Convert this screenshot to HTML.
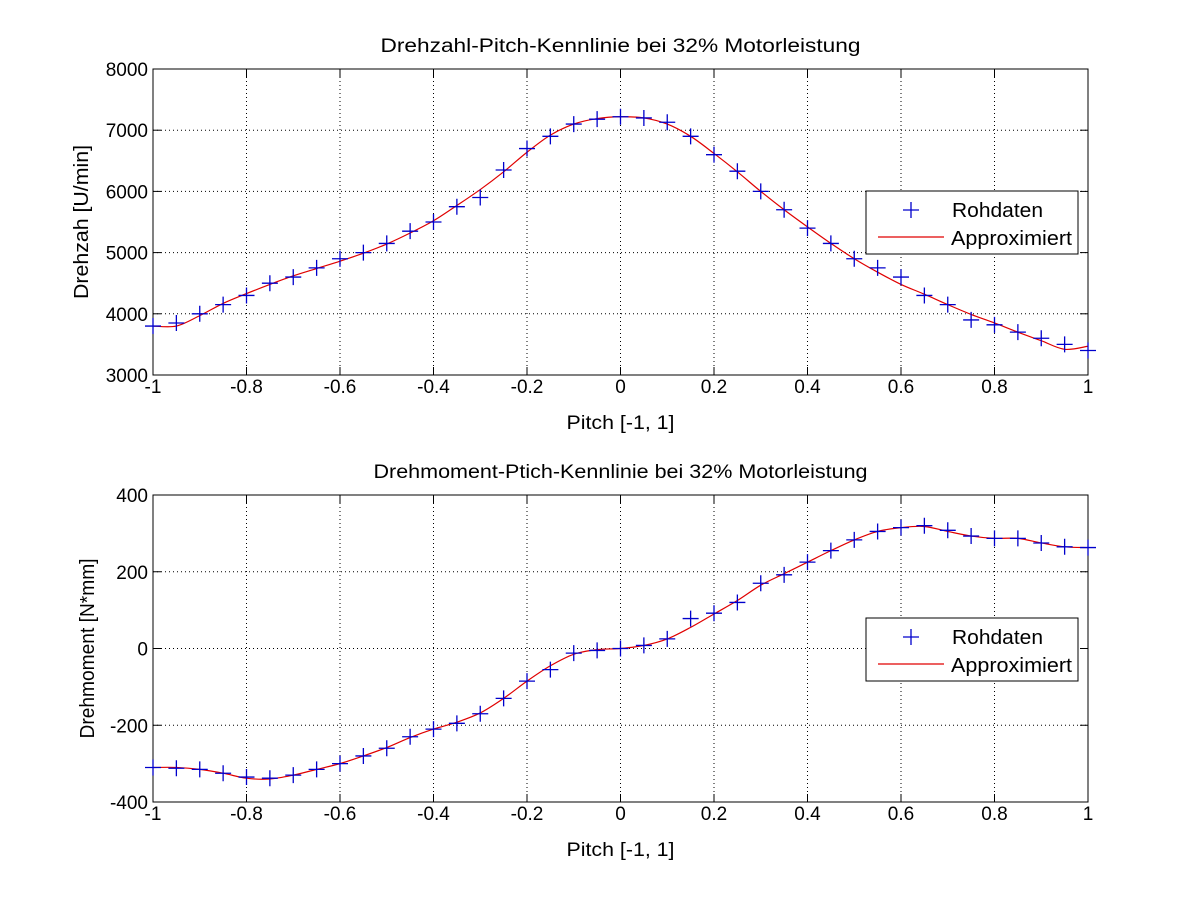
<!DOCTYPE html>
<html><head><meta charset="utf-8"><style>
body{margin:0;background:#fff}
svg{display:block;font-family:"Liberation Sans",Arial,sans-serif}
</style></head><body>
<svg id="chart" width="1201" height="901" xmlns="http://www.w3.org/2000/svg">
<rect width="1201" height="901" fill="#fff"/>
</svg>
<script>
const pitch = [];
for (let i = 0; i <= 40; i++) pitch.push(-1 + i * 0.05);
const xTicks = [-1,-0.8,-0.6,-0.4,-0.2,0,0.2,0.4,0.6,0.8,1];
const xTickLabels = ["-1","-0.8","-0.6","-0.4","-0.2","0","0.2","0.4","0.6","0.8","1"];
const speedRaw = [3800,3850,4000,4150,4300,4500,4600,4750,4900,5000,5150,5350,5500,5750,5900,6350,6700,6900,7100,7180,7220,7200,7130,6900,6600,6330,6000,5700,5400,5150,4900,4750,4600,4300,4150,3900,3820,3700,3600,3500,3400];
const speedFit = [3800,3800,3970,4170,4330,4480,4620,4740,4860,4990,5140,5320,5520,5770,6030,6320,6640,6920,7100,7190,7220,7200,7100,6900,6620,6320,6000,5700,5420,5150,4900,4680,4480,4320,4150,3990,3850,3700,3560,3420,3470];
const speedTicks = [3000,4000,5000,6000,7000,8000];
const torqueRaw = [-310,-312,-315,-325,-335,-338,-330,-315,-300,-280,-260,-230,-210,-195,-170,-130,-85,-55,-12,-5,0,8,25,78,92,120,170,192,225,255,283,305,315,320,308,293,287,287,275,265,263];
const torqueFit = [-310,-310,-315,-325,-338,-340,-330,-315,-300,-280,-258,-232,-210,-192,-168,-130,-85,-45,-15,-3,0,8,25,55,90,125,165,195,225,255,283,305,315,318,305,293,287,287,275,265,263];
const torqueTicks = [-400,-200,0,200,400];

const svg = document.getElementById('chart');
const NS = 'http://www.w3.org/2000/svg';
function mk(tag, attrs, parent) {
  const e = document.createElementNS(NS, tag);
  for (const k in attrs) e.setAttribute(k, attrs[k]);
  (parent || svg).appendChild(e);
  return e;
}
function txt(s, attrs, parent) { const e = mk('text', attrs, parent); e.textContent = s; return e; }

function spline(pts) {
  let d = 'M' + pts[0][0] + ',' + pts[0][1];
  for (let i = 0; i < pts.length - 1; i++) {
    const p0 = pts[Math.max(0, i - 1)], p1 = pts[i], p2 = pts[i + 1], p3 = pts[Math.min(pts.length - 1, i + 2)];
    const c1x = p1[0] + (p2[0] - p0[0]) / 6, c1y = p1[1] + (p2[1] - p0[1]) / 6;
    const c2x = p2[0] - (p3[0] - p1[0]) / 6, c2y = p2[1] - (p3[1] - p1[1]) / 6;
    d += ' C' + c1x + ',' + c1y + ' ' + c2x + ',' + c2y + ' ' + p2[0] + ',' + p2[1];
  }
  return d;
}

function panel(cfg) {
  const g = mk('g', {});
  
  
  const L = 153, R = 1088, T = cfg.top, B = cfg.bottom;
  const ymin = cfg.yTicks[0], ymax = cfg.yTicks[cfg.yTicks.length - 1];
  const sx = v => L + (v + 1) / 2 * (R - L);
  const sy = v => B - (v - ymin) / (ymax - ymin) * (B - T);
  xTicks.forEach((t, i) => {
    const x = sx(t);
    if (i > 0 && i < xTicks.length - 1) {
      const gl = mk('line', {x1: x, x2: x, y1: T, y2: B, stroke: '#000', 'stroke-width': 1, 'stroke-dasharray': '1,3'}, g);
      
      
    }
    mk('line', {x1: x, x2: x, y1: B, y2: B - 8, stroke: '#000'}, g);
    mk('line', {x1: x, x2: x, y1: T, y2: T + 8, stroke: '#000'}, g);
    const tl = txt(xTickLabels[i], {x: x, y: B + 18, 'text-anchor': 'middle', 'font-size': 19}, g);
    
    
  });
  cfg.yTicks.forEach((t, i) => {
    const y = sy(t);
    if (i > 0 && i < cfg.yTicks.length - 1) {
      const gl = mk('line', {x1: L, x2: R, y1: y, y2: y, stroke: '#000', 'stroke-width': 1, 'stroke-dasharray': '1,3'}, g);
      
      
    }
    mk('line', {x1: L, x2: L + 8, y1: y, y2: y, stroke: '#000'}, g);
    mk('line', {x1: R, x2: R - 8, y1: y, y2: y, stroke: '#000'}, g);
    const tl = txt(String(t), {x: L - 5, y: y + 7, 'text-anchor': 'end', 'font-size': 19}, g);
    
    
  });
  const frame = mk('rect', {x: L, y: T, width: R - L, height: B - T, fill: 'none', stroke: '#000', 'stroke-width': 1}, g);
  
  
  const pts = pitch.map((p, i) => [sx(p), sy(cfg.fit[i])]);
  const line = mk('path', {d: spline(pts), fill: 'none', stroke: '#e00000', 'stroke-width': 1.2}, g);
  
  
  pitch.forEach((p, i) => {
    const x = sx(p), y = sy(cfg.raw[i]);
    const m = mk('path', {d: `M${x-8},${y}H${x+8}M${x},${y-8}V${y+8}`, stroke: '#0000cc', 'stroke-width': 1.3}, g);
    
    
  });
  const title = txt(cfg.title, {x: (L + R) / 2, y: T - 17, 'text-anchor': 'middle', 'font-size': 19, textLength: cfg.titleLen, lengthAdjust: 'spacingAndGlyphs'}, g);
  
  
  const xt = txt('Pitch [-1, 1]', {x: (L + R) / 2, y: B + 54, 'text-anchor': 'middle', 'font-size': 19, textLength: 108, lengthAdjust: 'spacingAndGlyphs'}, g);
  
  
  const cy = (T + B) / 2;
  const yt = txt(cfg.ylabel, {x: cfg.ylx, y: cy, 'text-anchor': 'middle', 'font-size': 20, textLength: cfg.ylen, lengthAdjust: 'spacingAndGlyphs', transform: `rotate(-90 ${cfg.ylx} ${cy})`}, g);
  
  
  const lg = mk('g', {}, g);
  
  
  const ly = cfg.legendTop;
  mk('rect', {x: 866, y: ly, width: 212, height: 63, fill: '#fff', stroke: '#000'}, lg);
  mk('path', {d: `M${911-8},${ly+19}H${911+8}M911,${ly+11}V${ly+27}`, stroke: '#0000cc', 'stroke-width': 1.3}, lg);
  txt('Rohdaten', {x: 952, y: ly + 26, 'font-size': 20, textLength: 91, lengthAdjust: 'spacingAndGlyphs'}, lg);
  mk('line', {x1: 878, x2: 944, y1: ly + 46, y2: ly + 46, stroke: '#e00000', 'stroke-width': 1.2}, lg);
  txt('Approximiert', {x: 951, y: ly + 54, 'font-size': 20, textLength: 121, lengthAdjust: 'spacingAndGlyphs'}, lg);
}

panel({name: 'speed-panel', top: 69, bottom: 375, yTicks: speedTicks, raw: speedRaw, fit: speedFit,
  title: 'Drehzahl-Pitch-Kennlinie bei 32% Motorleistung', titleLen: 480, ylabel: 'Drehzah [U/min]', ylen: 154, ylx: 88, legendTop: 191});
panel({name: 'torque-panel', top: 495, bottom: 802, yTicks: torqueTicks, raw: torqueRaw, fit: torqueFit,
  title: 'Drehmoment-Ptich-Kennlinie bei 32% Motorleistung', titleLen: 494, ylabel: 'Drehmoment [N*mm]', ylen: 180, ylx: 94, legendTop: 618});
</script>
</body></html>
